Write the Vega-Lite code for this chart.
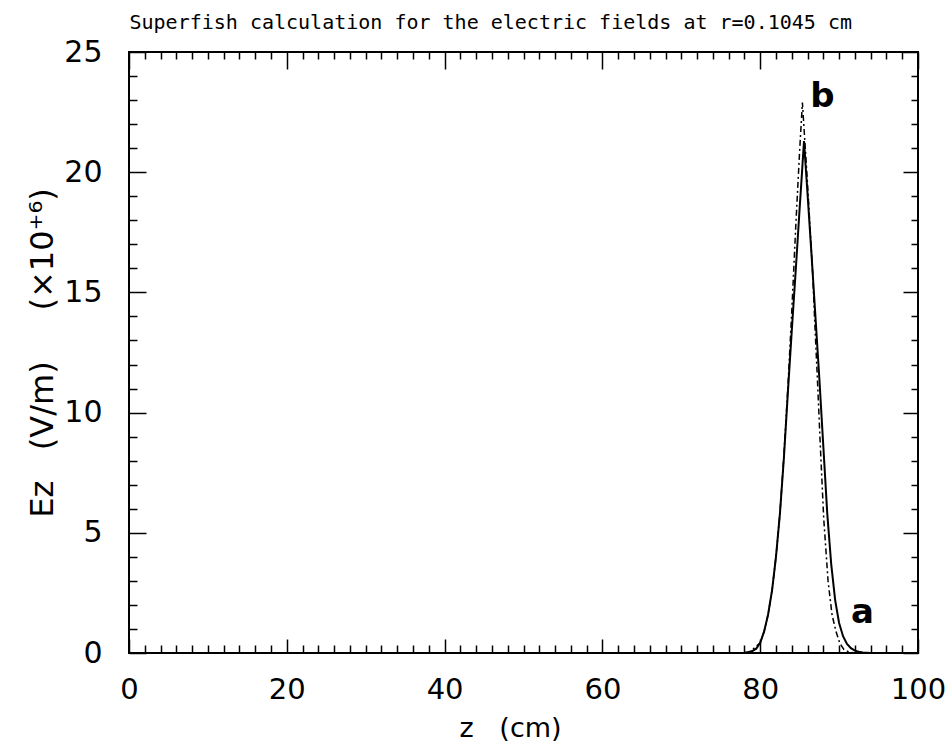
{
  "$schema": "https://vega.github.io/schema/vega-lite/v6.json",
  "width": 789,
  "height": 601,
  "autosize": {"type": "none"},
  "padding": {"left": 129, "top": 52, "right": 27, "bottom": 92},
  "background": "white",
  "config": {
    "view": {"stroke": "black", "strokeWidth": 2},
    "font": "DejaVu Sans"
  },
  "layer": [
    {
      "data": {"values": [
        {"z": 0, "v": 0}, {"z": 76, "v": 0}, {"z": 78, "v": 0.01}, {"z": 78.5, "v": 0.03}, {"z": 79, "v": 0.08},
        {"z": 79.5, "v": 0.18}, {"z": 80, "v": 0.42}, {"z": 80.5, "v": 0.9}, {"z": 81, "v": 1.6},
        {"z": 81.5, "v": 2.6}, {"z": 82, "v": 4.0}, {"z": 82.5, "v": 5.8}, {"z": 83, "v": 8.1},
        {"z": 83.5, "v": 10.8}, {"z": 84, "v": 13.4}, {"z": 84.5, "v": 15.9}, {"z": 85, "v": 18.5},
        {"z": 85.3, "v": 20.0}, {"z": 85.55, "v": 21.3}, {"z": 86, "v": 19.1}, {"z": 86.5, "v": 16.6},
        {"z": 87, "v": 14.0}, {"z": 87.5, "v": 11.4}, {"z": 88, "v": 8.6}, {"z": 88.5, "v": 5.8},
        {"z": 89, "v": 3.7}, {"z": 89.5, "v": 2.2}, {"z": 90, "v": 1.25}, {"z": 90.5, "v": 0.7},
        {"z": 91, "v": 0.38}, {"z": 91.5, "v": 0.2}, {"z": 92, "v": 0.1}, {"z": 92.5, "v": 0.05},
        {"z": 93, "v": 0.02}, {"z": 94, "v": 0}, {"z": 100, "v": 0}
      ]},
      "mark": {"type": "line", "color": "black", "strokeWidth": 2},
      "encoding": {
        "x": {
          "field": "z", "type": "quantitative",
          "scale": {"domain": [0, 100], "nice": false, "zero": false},
          "axis": {
            "orient": "bottom",
            "values": [0,2,4,6,8,10,12,14,16,18,20,22,24,26,28,30,32,34,36,38,40,42,44,46,48,50,52,54,56,58,60,62,64,66,68,70,72,74,76,78,80,82,84,86,88,90,92,94,96,98,100],
            "labelExpr": "datum.value % 20 === 0 ? datum.label : ''",
            "tickSize": {"condition": {"test": "datum.value % 20 === 0", "value": -14}, "value": -8},
            "tickColor": "black", "tickWidth": 1.5,
            "domain": false, "grid": false,
            "labelOverlap": false, "labelFlush": false,
            "labelFont": "DejaVu Sans", "labelFontSize": 29, "labelColor": "black",
            "labelPadding": 36,
            "title": "z\u00a0\u00a0\u00a0(cm)",
            "titleFont": "DejaVu Sans", "titleFontSize": 27, "titleFontWeight": "normal",
            "titleColor": "black", "titlePadding": 5, "titleX": 381
          }
        },
        "y": {
          "field": "v", "type": "quantitative",
          "scale": {"domain": [0, 25], "nice": false, "zero": false},
          "axis": {
            "orient": "left",
            "values": [0,1,2,3,4,5,6,7,8,9,10,11,12,13,14,15,16,17,18,19,20,21,22,23,24,25],
            "labelExpr": "datum.value % 5 === 0 ? datum.label : ''",
            "tickSize": {"condition": {"test": "datum.value % 5 === 0", "value": -17}, "value": -8},
            "tickColor": "black", "tickWidth": 1.5,
            "domain": false, "grid": false,
            "labelOverlap": false, "labelFlush": false,
            "labelFont": "DejaVu Sans", "labelFontSize": 30, "labelColor": "black",
            "labelPadding": 44,
            "title": "Ez\u00a0\u00a0\u00a0(V/m)\u00a0\u00a0\u00a0\u00a0\u00a0(×10⁺⁶)",
            "titleFont": "DejaVu Sans", "titleFontSize": 32, "titleFontWeight": "normal",
            "titleColor": "black", "titlePadding": 4
          }
        }
      }
    },
    {
      "data": {"values": [
        {"z": 0, "v": 0}, {"z": 76, "v": 0}, {"z": 78, "v": 0.01}, {"z": 78.7, "v": 0.05}, {"z": 80, "v": 0.42},
        {"z": 80.5, "v": 0.9}, {"z": 81, "v": 1.6}, {"z": 81.5, "v": 2.6}, {"z": 82, "v": 4.0},
        {"z": 82.5, "v": 5.8}, {"z": 83, "v": 8.2}, {"z": 83.5, "v": 11.0}, {"z": 84, "v": 14.2},
        {"z": 84.5, "v": 17.7}, {"z": 85, "v": 20.9}, {"z": 85.35, "v": 22.9}, {"z": 86, "v": 19.5},
        {"z": 86.65, "v": 15.8}, {"z": 86.95, "v": 13.5}, {"z": 87.25, "v": 11.4}, {"z": 87.65, "v": 8.4},
        {"z": 88.05, "v": 5.6}, {"z": 88.6, "v": 3.0}, {"z": 89.1, "v": 1.6}, {"z": 89.6, "v": 0.9},
        {"z": 90.1, "v": 0.4}, {"z": 90.6, "v": 0.15}, {"z": 91.2, "v": 0.05}, {"z": 92, "v": 0},
        {"z": 100, "v": 0}
      ]},
      "mark": {"type": "line", "color": "black", "strokeWidth": 1.5, "strokeDash": [6, 3, 2, 3]},
      "encoding": {
        "x": {
          "field": "z", "type": "quantitative",
          "axis": {
            "orient": "top",
            "values": [0,2,4,6,8,10,12,14,16,18,20,22,24,26,28,30,32,34,36,38,40,42,44,46,48,50,52,54,56,58,60,62,64,66,68,70,72,74,76,78,80,82,84,86,88,90,92,94,96,98,100],
            "labels": false,
            "title": "Superfish calculation for the electric fields at r=0.1045 cm",
            "titleAnchor": "start", "titleAlign": "left", "titleBaseline": "alphabetic",
            "titleFont": "DejaVu Sans Mono", "titleFontSize": 20, "titleFontWeight": "normal",
            "titleColor": "black", "titlePadding": 23,
            "tickSize": {"condition": {"test": "datum.value % 20 === 0", "value": -17}, "value": -7},
            "tickColor": "black", "tickWidth": 1.5,
            "domain": false, "grid": false
          }
        },
        "y": {
          "field": "v", "type": "quantitative",
          "axis": {
            "orient": "right",
            "values": [0,1,2,3,4,5,6,7,8,9,10,11,12,13,14,15,16,17,18,19,20,21,22,23,24,25],
            "labels": false, "title": null,
            "tickSize": {"condition": {"test": "datum.value % 5 === 0", "value": -15}, "value": -7},
            "tickColor": "black", "tickWidth": 1.5,
            "domain": false, "grid": false
          }
        }
      }
    },
    {
      "data": {"values": [
        {"z": 87.9, "v": 22.7, "label": "b"},
        {"z": 92.97, "v": 1.25, "label": "a"}
      ]},
      "mark": {"type": "text", "font": "DejaVu Sans", "fontWeight": "bold", "fontSize": 34, "baseline": "alphabetic", "align": "center", "color": "black"},
      "encoding": {
        "x": {"field": "z", "type": "quantitative", "axis": null},
        "y": {"field": "v", "type": "quantitative", "axis": null},
        "text": {"field": "label"}
      }
    }
  ],
  "resolve": {"axis": {"x": "independent", "y": "independent"}}
}
